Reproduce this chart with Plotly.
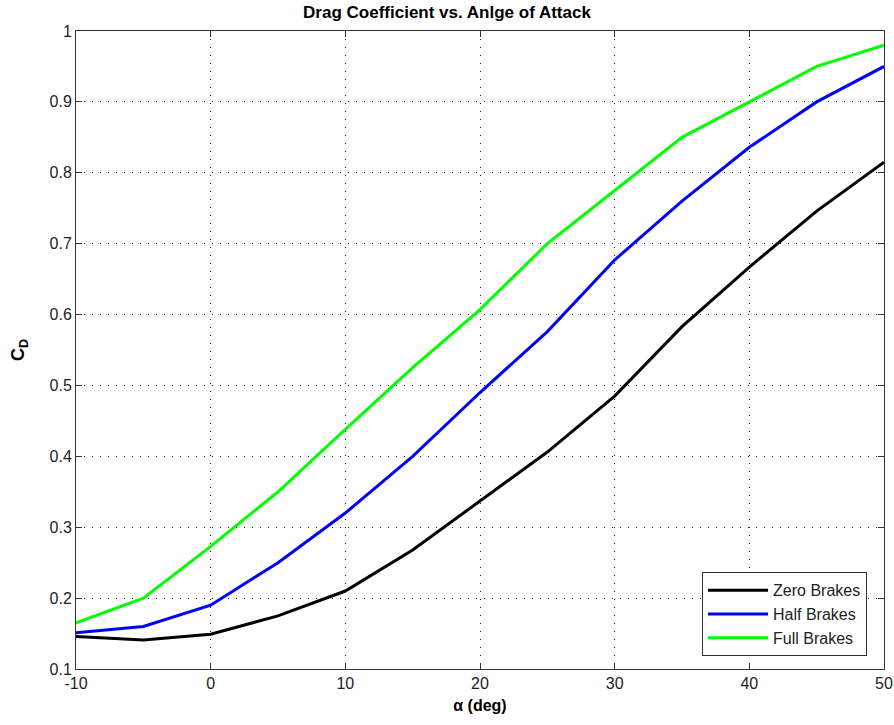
import plotly.graph_objects as go

alpha = [-10, -5, 0, 5, 10, 15, 20, 25, 30, 35, 40, 45, 50]
zero_brakes = [0.146, 0.141, 0.149, 0.175, 0.21, 0.268, 0.337, 0.406, 0.485, 0.583, 0.667, 0.746, 0.815]
half_brakes = [0.151, 0.16, 0.19, 0.25, 0.32, 0.40, 0.49, 0.576, 0.677, 0.76, 0.836, 0.90, 0.95]
full_brakes = [0.165, 0.20, 0.273, 0.35, 0.438, 0.525, 0.607, 0.70, 0.775, 0.85, 0.90, 0.95, 0.98]

x_ticks = [-10, 0, 10, 20, 30, 40, 50]
x_tick_text = ["-10", "0", "10", "20", "30", "40", "50"]
y_ticks = [0.1, 0.2, 0.3, 0.4, 0.5, 0.6, 0.7, 0.8, 0.9, 1]
y_tick_text = ["0.1", "0.2", "0.3", "0.4", "0.5", "0.6", "0.7", "0.8", "0.9", "1"]

series = [
    ("Zero Brakes", zero_brakes, "#000000"),
    ("Half Brakes", half_brakes, "#0000ff"),
    ("Full Brakes", full_brakes, "#00ff00"),
]

fig = go.Figure()
for name, vals, color in series:
    fig.add_trace(go.Scatter(x=alpha, y=vals, mode="lines", name=name,
                             line=dict(color=color, width=3)))

font_family = "Liberation Sans, Arial, sans-serif"
axis_common = dict(
    showline=True, linecolor="#333333", linewidth=1, mirror="allticks",
    ticks="inside", ticklen=6, tickcolor="#333333",
    showgrid=True, gridcolor="#222222", griddash="1px,7px", gridwidth=1,
    zeroline=False, automargin=False,
    tickfont=dict(family=font_family, size=16, color="#222222"),
)

fig.update_layout(
    width=894, height=725,
    paper_bgcolor="white", plot_bgcolor="white",
    margin=dict(l=76, r=10, t=31, b=56),
    title=dict(text="<b>Drag Coefficient vs. Anlge of Attack</b>",
               x=0.5, xanchor="center", y=0.983, yanchor="middle",
               font=dict(family=font_family, size=17, color="#000000")),
    xaxis=dict(range=[-10, 50], tickvals=x_ticks, ticktext=x_tick_text,
               title=dict(text="<b>α (deg)</b>", standoff=8,
                          font=dict(family=font_family, size=16, color="#000000")),
               **axis_common),
    yaxis=dict(range=[0.1, 1], tickvals=y_ticks, ticktext=y_tick_text,
               title=dict(text="<b>C<sub>D</sub></b>", standoff=20,
                          font=dict(family=font_family, size=18, color="#000000")),
               **axis_common),
    legend=dict(x=0.979, y=0.02, xanchor="right", yanchor="bottom",
                bgcolor="white", bordercolor="#333333", borderwidth=1,
                font=dict(family=font_family, size=16, color="#222222"),
                tracegroupgap=0, itemwidth=60),
    showlegend=True,
)

fig.write_html("out.html")
